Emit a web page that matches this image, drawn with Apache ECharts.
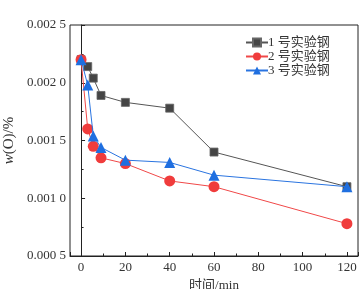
<!DOCTYPE html>
<html><head><meta charset="utf-8">
<script src="https://cdn.jsdelivr.net/npm/echarts@6/dist/echarts.min.js"></script>
<style>html,body{margin:0;padding:0;background:#fff}#c{width:364px;height:289px}</style>
</head><body><div id="c"></div>
<script>
const seriesNames = ['1 号实验钢', '2 号实验钢', '3 号实验钢'];
const times = [0, 3, 5.5, 9, 20, 40, 60, 120];
const steel1 = [0.00220, 0.00214, 0.00204, 0.00189, 0.00183, 0.00178, 0.00140, 0.00110];
const steel2 = [0.00220, 0.00160, 0.00145, 0.00135, 0.00130, 0.00115, 0.00110, 0.00078];
const steel3 = [0.00220, 0.00198, 0.00154, 0.00144, 0.00133, 0.00131, 0.00120, 0.00110];
const yTickValues = [0.0005, 0.0010, 0.0015, 0.0020, 0.0025];
const yTickLabels = ['0.000 5', '0.001 0', '0.001 5', '0.002 0', '0.002 5'];

const FONT = '"Liberation Serif", "Noto Sans CJK SC", serif';
const chart = echarts.init(document.getElementById('c'), null, {renderer: 'canvas'});
const pair = arr => times.map((t, i) => [t, arr[i]]);
const colors = ['#454545', '#f03c3c', '#1f6fe0'];
const lineColors = ['#555555', '#f04848', '#2a74e0'];
const symbols = ['rect', 'circle', 'triangle'];
const sizes = [8, 11, 11];
const data = [steel1, steel2, steel3];

chart.setOption({
  animation: false,
  textStyle: {fontFamily: FONT},
  grid: {left: 70, right: 6, top: 25, bottom: 33, show: true, borderColor: '#222', borderWidth: 1,
         containLabel: false, outerBoundsMode: 'none'},
  legend: {
    orient: 'vertical', left: 240, top: 31, itemWidth: 22, itemHeight: 10, itemGap: 1,
    textStyle: {fontFamily: FONT, fontSize: 13, color: '#333', padding: [0, 0, 0, -5]},
    data: seriesNames
  },
  xAxis: {
    type: 'value', min: -5, max: 125, splitNumber: 6,
    name: '时间/min', nameLocation: 'middle', nameGap: 22,
    nameTextStyle: {fontFamily: FONT, fontSize: 13, color: '#333'},
    axisLine: {lineStyle: {color: '#222', width: 1}},
    axisTick: {inside: true, length: 4, lineStyle: {color: '#222'}},
    minorTick: {show: true, splitNumber: 2, length: 2.5, lineStyle: {color: '#222'}},
    axisLabel: {fontFamily: FONT, fontSize: 13, color: '#333', margin: 5, showMinLabel: false, showMaxLabel: false},
    splitLine: {show: false}
  },
  yAxis: {
    type: 'value', min: 0.0005, max: 0.0025, interval: 0.0005,
    name: '{i|w}(O)/%', nameLocation: 'middle', nameGap: 49,
    nameTextStyle: {fontFamily: FONT, fontSize: 15, color: '#333', rich: {i: {fontFamily: FONT, fontStyle: 'italic', fontSize: 15, color: '#333'}}},
    axisLine: {show: true, lineStyle: {color: '#222', width: 1}},
    axisTick: {inside: true, length: 4, lineStyle: {color: '#222'}},
    minorTick: {show: true, splitNumber: 2, length: 2.5, lineStyle: {color: '#222'}},
    axisLabel: {
      fontFamily: FONT, fontSize: 13, color: '#333', margin: 4,
      formatter: v => {
        const i = yTickValues.findIndex(t => Math.abs(t - v) < 1e-9);
        return i >= 0 ? yTickLabels[i] : '';
      }
    },
    splitLine: {show: false}
  },
  series: seriesNames.map((n, k) => ({
    name: n, type: 'line', data: pair(data[k]),
    symbol: symbols[k], symbolSize: sizes[k],
    itemStyle: {color: colors[k], borderColor: k === 0 ? '#666' : colors[k], borderWidth: k === 0 ? 0.8 : 0},
    lineStyle: {color: lineColors[k], width: 1},
    z: 2 + k
  }))
});
</script></body></html>
